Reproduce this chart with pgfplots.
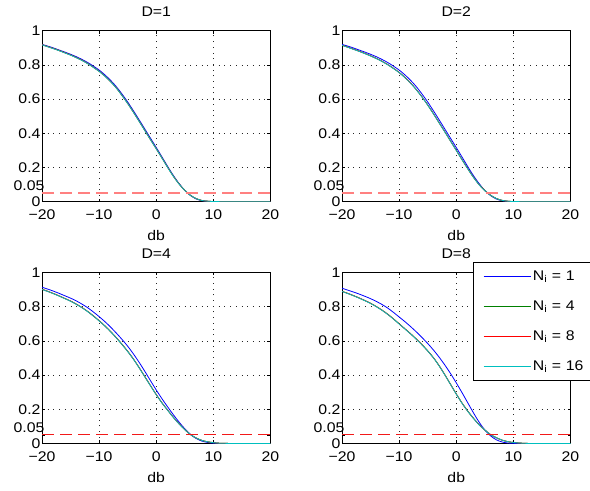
\documentclass[border=0pt]{standalone}
\usepackage{fontspec}
\setmainfont{Liberation Sans}[FakeStretch=1.13]
\usepackage{pgfplots}
\pgfplotsset{compat=1.18}
\usepackage{pgfplotstable}

\definecolor{mblue}{rgb}{0,0,1}
\definecolor{mgreen}{rgb}{0,0.5,0}
\definecolor{mred}{rgb}{1,0,0}
\definecolor{mcyan}{rgb}{0,0.75,0.75}
\definecolor{mpink}{rgb}{1,0.5,0.5}
\definecolor{dred}{rgb}{0.95,0.1,0.1}

% columns: x, blue (Ni=1), green (Ni=4), red (Ni=8), cyan (Ni=16)
\pgfplotstableread{
x b g r c
-20 0.920 0.918 0.918 0.917
-19 0.910 0.907 0.907 0.906
-18 0.899 0.896 0.896 0.895
-17 0.887 0.884 0.884 0.883
-16 0.875 0.871 0.871 0.870
-15 0.862 0.858 0.858 0.857
-14 0.848 0.843 0.843 0.842
-13 0.832 0.827 0.827 0.826
-12 0.814 0.808 0.808 0.807
-11 0.793 0.786 0.786 0.785
-10 0.770 0.763 0.763 0.762
-9 0.742 0.735 0.735 0.734
-8 0.710 0.703 0.703 0.702
-7 0.673 0.666 0.666 0.665
-6 0.630 0.622 0.622 0.621
-5 0.583 0.575 0.575 0.574
-4 0.532 0.524 0.524 0.523
-3 0.479 0.471 0.471 0.470
-2 0.425 0.417 0.417 0.416
-1 0.371 0.363 0.363 0.362
0 0.317 0.310 0.310 0.309
1 0.262 0.256 0.256 0.255
2 0.206 0.201 0.201 0.200
3 0.153 0.149 0.149 0.148
4 0.106 0.104 0.104 0.103
5 0.066 0.066 0.066 0.066
6 0.036 0.037 0.037 0.037
7 0.016 0.018 0.018 0.018
8 0.006 0.007 0.007 0.007
9 0.002 0.003 0.003 0.003
10 0.0005 0.001 0.001 0.001
11 0 0.0003 0.0003 0.0003
12 0 0 0 0
14 0 0 0 0
16 0 0 0 0
18 0 0 0 0
20 0 0 0 0
}\tabA

\pgfplotstableread{
x b g r c
-20 0.920 0.915 0.915 0.914
-19 0.910 0.904 0.904 0.903
-18 0.899 0.892 0.892 0.891
-17 0.887 0.880 0.880 0.879
-16 0.875 0.867 0.867 0.866
-15 0.862 0.853 0.853 0.852
-14 0.848 0.838 0.838 0.837
-13 0.832 0.821 0.821 0.820
-12 0.814 0.802 0.802 0.801
-11 0.793 0.780 0.780 0.779
-10 0.770 0.756 0.756 0.755
-9 0.742 0.727 0.727 0.726
-8 0.710 0.694 0.694 0.693
-7 0.673 0.656 0.656 0.655
-6 0.630 0.613 0.613 0.612
-5 0.583 0.566 0.566 0.565
-4 0.532 0.515 0.515 0.514
-3 0.479 0.462 0.462 0.461
-2 0.425 0.409 0.409 0.408
-1 0.371 0.355 0.355 0.354
0 0.317 0.301 0.301 0.300
1 0.262 0.247 0.247 0.246
2 0.206 0.194 0.194 0.193
3 0.153 0.144 0.144 0.143
4 0.106 0.100 0.100 0.099
5 0.066 0.065 0.065 0.065
6 0.036 0.038 0.038 0.038
7 0.016 0.019 0.019 0.019
8 0.006 0.008 0.008 0.008
9 0.002 0.003 0.003 0.003
10 0.0005 0.001 0.001 0.001
11 0 0.0003 0.0003 0.0003
12 0 0 0 0
14 0 0 0 0
16 0 0 0 0
18 0 0 0 0
20 0 0 0 0
}\tabB

\pgfplotstableread{
x b g r c
-20 0.914 0.902 0.902 0.901
-19 0.903 0.890 0.890 0.889
-18 0.891 0.877 0.877 0.876
-17 0.878 0.863 0.863 0.862
-16 0.864 0.848 0.848 0.847
-15 0.850 0.833 0.833 0.832
-14 0.834 0.815 0.815 0.814
-13 0.815 0.795 0.795 0.794
-12 0.794 0.772 0.772 0.771
-11 0.769 0.746 0.746 0.745
-10 0.742 0.718 0.718 0.717
-9 0.713 0.688 0.688 0.687
-8 0.681 0.655 0.655 0.654
-7 0.646 0.619 0.619 0.618
-6 0.609 0.580 0.580 0.579
-5 0.569 0.539 0.539 0.538
-4 0.524 0.494 0.494 0.493
-3 0.475 0.444 0.444 0.443
-2 0.422 0.391 0.391 0.390
-1 0.367 0.338 0.338 0.337
0 0.313 0.286 0.286 0.285
1 0.262 0.238 0.238 0.237
2 0.214 0.195 0.195 0.194
3 0.168 0.153 0.153 0.152
4 0.125 0.115 0.115 0.114
5 0.086 0.081 0.081 0.081
6 0.053 0.052 0.052 0.052
7 0.029 0.032 0.032 0.032
8 0.014 0.018 0.018 0.018
9 0.006 0.010 0.010 0.010
10 0.002 0.005 0.005 0.005
11 0.0005 0.002 0.002 0.002
12 0 0.001 0.001 0.001
13 0 0.0003 0.0003 0.0003
14 0 0 0 0
16 0 0 0 0
18 0 0 0 0
20 0 0 0 0
}\tabC

\pgfplotstableread{
x b g r c
-20 0.908 0.890 0.890 0.889
-19 0.897 0.878 0.878 0.877
-18 0.886 0.865 0.865 0.864
-17 0.874 0.851 0.851 0.850
-16 0.861 0.836 0.836 0.835
-15 0.847 0.820 0.820 0.819
-14 0.831 0.801 0.801 0.800
-13 0.813 0.780 0.780 0.779
-12 0.792 0.756 0.756 0.755
-11 0.767 0.729 0.729 0.728
-10 0.740 0.700 0.700 0.699
-9 0.713 0.671 0.671 0.670
-8 0.684 0.642 0.642 0.641
-7 0.653 0.611 0.611 0.610
-6 0.620 0.578 0.578 0.577
-5 0.585 0.542 0.542 0.541
-4 0.547 0.502 0.502 0.501
-3 0.505 0.455 0.455 0.454
-2 0.459 0.402 0.402 0.401
-1 0.409 0.346 0.346 0.345
0 0.355 0.290 0.290 0.289
1 0.298 0.237 0.237 0.236
2 0.239 0.190 0.190 0.189
3 0.180 0.148 0.148 0.147
4 0.125 0.110 0.110 0.109
5 0.079 0.079 0.079 0.079
6 0.045 0.052 0.052 0.052
7 0.022 0.034 0.034 0.034
8 0.009 0.020 0.020 0.020
9 0.003 0.011 0.011 0.011
10 0.001 0.006 0.006 0.006
11 0 0.003 0.003 0.003
12 0 0.001 0.001 0.001
13 0 0.0003 0.0003 0.0003
14 0 0 0 0
16 0 0 0 0
18 0 0 0 0
20 0 0 0 0
}\tabD

\pgfplotsset{
  mstyle/.style={
    scale only axis, width=228.5bp, height=171bp,
    anchor=south west,
    xmin=-20, xmax=20, ymin=0, ymax=1,
    xtick={-20,-10,0,10,20}, xticklabels={−20,−10,0,10,20},
    ytick={0,0.2,0.4,0.6,0.8,1}, yticklabels={0,0.2,0.4,0.6,0.8,1},
    extra y ticks={0.05}, extra y tick labels={0.05},
    extra y tick style={grid=none, yticklabel style={yshift=7bp, xshift=4bp}},
    grid=major,
    major grid style={black!85, line width=0.6bp, dash pattern=on 0.9bp off 4.8bp},
    tick align=inside, major tick length=3bp,
    tick style={black, line width=0.6bp},
    axis line style={black, line width=0.8bp},
    font=\fontsize{14bp}{16bp}\selectfont,
    tick label style={font=\fontsize{14bp}{16bp}\selectfont},
    yticklabel style={xshift=2bp},
    xticklabel style={yshift=-4.5bp},
    title style={at={(axis description cs:0.5,1)}, anchor=center, yshift=13bp},
    xlabel style={at={(axis description cs:0.5,0)}, anchor=center, yshift=-33.5bp},
    xlabel=db,
    every axis plot/.append style={line width=0.8bp, smooth},
  },
}

\begin{document}
\begin{tikzpicture}
\useasboundingbox (0,0) rectangle (590bp,491bp);

\begin{axis}[mstyle, at={(42bp,289.3bp)}, title={D=1}]
\addplot[color=mblue] table[x=x,y=b]{\tabA};
\addplot[color=mgreen] table[x=x,y=g]{\tabA};
\addplot[color=mred] table[x=x,y=r]{\tabA};
\addplot[color=mcyan] table[x=x,y=c]{\tabA};
\addplot[forget plot, sharp plot, draw=mpink, line width=1.4bp, dash pattern=on 12bp off 6bp] coordinates {(-20,0.05) (20,0.05)};
\end{axis}

\begin{axis}[mstyle, at={(342bp,289.3bp)}, title={D=2}]
\addplot[color=mblue] table[x=x,y=b]{\tabB};
\addplot[color=mgreen] table[x=x,y=g]{\tabB};
\addplot[color=mred] table[x=x,y=r]{\tabB};
\addplot[color=mcyan] table[x=x,y=c]{\tabB};
\addplot[forget plot, sharp plot, draw=mpink, line width=1.4bp, dash pattern=on 12bp off 6bp] coordinates {(-20,0.05) (20,0.05)};
\end{axis}

\begin{axis}[mstyle, at={(42bp,47.5bp)}, title={D=4}]
\addplot[color=mblue] table[x=x,y=b]{\tabC};
\addplot[color=mgreen] table[x=x,y=g]{\tabC};
\addplot[color=mred] table[x=x,y=r]{\tabC};
\addplot[color=mcyan] table[x=x,y=c]{\tabC};
\addplot[forget plot, sharp plot, draw=dred, line width=1bp, dash pattern=on 12bp off 6bp] coordinates {(-20,0.05) (20,0.05)};
\end{axis}

\begin{axis}[mstyle, at={(342bp,47.5bp)}, title={D=8},
  legend cell align=left,
  legend image code/.code={\path (0bp,0bp); \draw[#1] (7.7bp,0bp) -- (54.7bp,0bp);},
  legend style={at={(axis description cs:0.5733,1.0614)}, anchor=north west,
    draw=black, line width=0.8bp, fill=white,
    inner xsep=2bp, inner ysep=7bp, row sep=17bp,
    /tikz/column sep=1bp,
    nodes={inner sep=1bp, text width=54.8bp, align=left},
    font=\fontsize{14bp}{16bp}\selectfont}]
\addplot[color=mblue] table[x=x,y=b]{\tabD};
\addlegendentry{N\textsubscript{i} = 1}
\addplot[color=mgreen] table[x=x,y=g]{\tabD};
\addlegendentry{N\textsubscript{i} = 4}
\addplot[color=mred] table[x=x,y=r]{\tabD};
\addlegendentry{N\textsubscript{i} = 8}
\addplot[color=mcyan] table[x=x,y=c]{\tabD};
\addlegendentry{N\textsubscript{i} = 16}
\addplot[forget plot, sharp plot, draw=dred, line width=1bp, dash pattern=on 12bp off 6bp] coordinates {(-20,0.05) (20,0.05)};
\end{axis}
\end{tikzpicture}
\end{document}
